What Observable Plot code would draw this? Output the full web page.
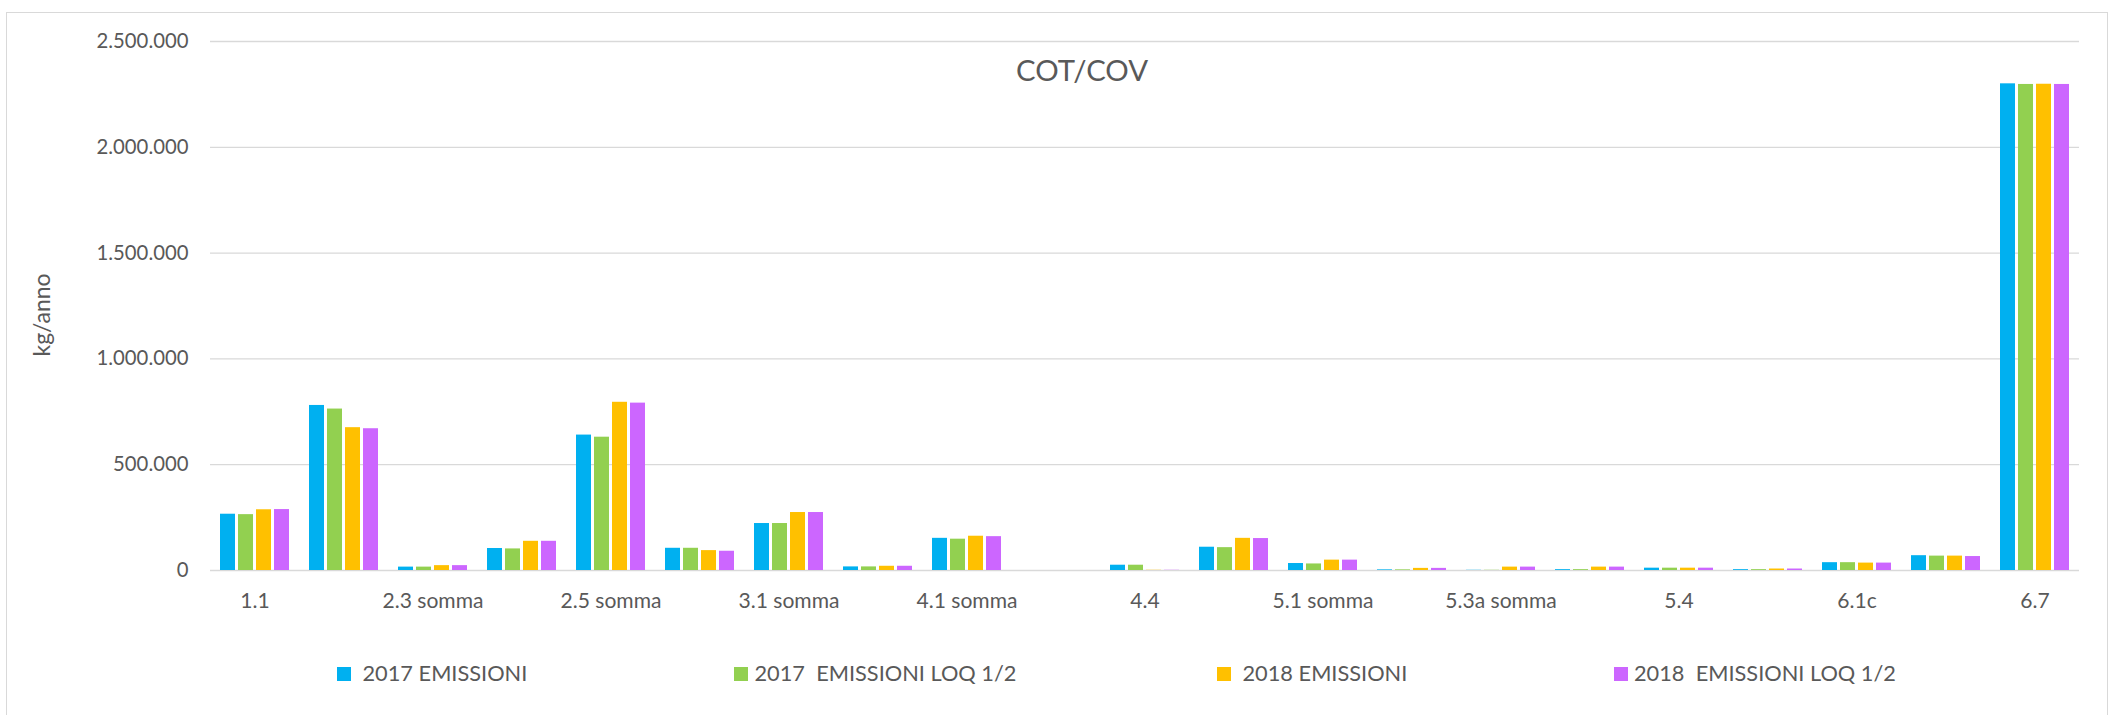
<!DOCTYPE html>
<html>
<head>
<meta charset="utf-8">
<script src="https://cdn.jsdelivr.net/npm/d3@7"></script>
<script src="https://cdn.jsdelivr.net/npm/@observablehq/plot@0.6"></script>
<style>
  html, body { margin: 0; padding: 0; background: #fff; }
  #chart { position: relative; width: 2117px; height: 715px; overflow: hidden; font-family: Lato, sans-serif; color: #595959; }
  #frame { position: absolute; left: 6px; top: 12px; width: 2102px; height: 720px; border: 1.3px solid #d9d9d9; box-sizing: border-box; pointer-events: none; }
  #plot { position: absolute; left: 0; top: 0; }
  .abs { position: absolute; white-space: pre; line-height: 1; }
  .sw { position: absolute; width: 13.5px; height: 13.5px; }
</style>
</head>
<body>
<div id="chart">
  <div id="frame"></div>
  <div id="plot"></div>
</div>
<script>
// ---- data ----
const categories = ["1.1", "2.1", "2.3 somma", "2.4", "2.5 somma", "2.6", "3.1 somma", "3.2", "4.1 somma", "4.2",
                    "4.4", "4.5", "5.1 somma", "5.2", "5.3a somma", "5.3b", "5.4", "6.1a", "6.1c", "6.2", "6.7"];
const tickLabels = ["1.1", "2.3 somma", "2.5 somma", "3.1 somma", "4.1 somma", "4.4", "5.1 somma", "5.3a somma", "5.4", "6.1c", "6.7"];
const series = ["2017 EMISSIONI", "2017  EMISSIONI LOQ 1/2", "2018 EMISSIONI", "2018  EMISSIONI LOQ 1/2"];
const colors = ["#00B0F0", "#92D050", "#FFC000", "#CC66FF"];
const emissioni2017 = [266000, 780000, 16000, 104000, 640000, 105000, 222000, 17000, 152000, 0, 25000, 110000, 33000, 3000, 1000, 4000, 11000, 4000, 37000, 70000, 2300000];
const loq2017       = [264000, 763000, 16000, 102000, 630000, 105000, 222000, 17000, 148000, 0, 25000, 108000, 31000, 3000, 1000, 4000, 11000, 4000, 37000, 68000, 2297000];
const emissioni2018 = [287000, 675000, 23000, 138000, 795000, 94000, 274000, 20000, 162000, 0, 1000, 152000, 49000, 10000, 16000, 16000, 11000, 7000, 35000, 68000, 2298000];
const loq2018       = [288000, 670000, 23000, 138000, 791000, 91000, 274000, 20000, 160000, 0, 1000, 151000, 49000, 10000, 16000, 16000, 11000, 7000, 35000, 66000, 2297000];
const yTicks = [0, 500000, 1000000, 1500000, 2000000, 2500000];
const title = "COT/COV";
const yLabel = "kg/anno";

const seriesValues = [emissioni2017, loq2017, emissioni2018, loq2018];
const rows = [];
categories.forEach((c, i) => series.forEach((s, j) => rows.push({category: c, series: s, value: seriesValues[j][i]})));

// ---- font fitting (substitute for Calibri) ----
const FAMILY = "Lato";
const ctx = document.createElement("canvas").getContext("2d");
function fit(text, target) {
  ctx.font = `100px ${FAMILY}`;
  return 100 * target / ctx.measureText(text).width;
}
const tickFs = fit("2.500.000", 92);
const catFs = fit("3.1 somma", 101);
const legFs = fit("2018  EMISSIONI LOQ 1/2", 262);
const titleFs = fit(title, 132);
const yLabFs = fit(yLabel, 83);

const itFmt = d3.formatLocale({decimal: ",", thousands: ".", grouping: [3], currency: ["€", ""]}).format(",.0f");

const chart = Plot.plot({
  width: 2117,
  height: 620,
  marginLeft: 205,
  marginRight: 34,
  marginTop: 41,
  marginBottom: 50,
  style: {fontFamily: `${FAMILY}, sans-serif`, color: "#595959", background: "transparent", overflow: "visible"},
  fx: {domain: categories, padding: 0},
  x: {domain: series, paddingInner: 0.19, paddingOuter: 0.5, axis: null},
  y: {domain: [0, 2500000]},
  color: {domain: series, range: colors},
  marks: [
    Plot.gridY(yTicks, {stroke: "#d9d9d9", strokeOpacity: 1, strokeWidth: 1.3}),
    Plot.axisY(yTicks, {tickSize: 0, tickPadding: 22, tickFormat: itFmt, fontSize: tickFs, label: null, fontVariant: "normal"}),
    Plot.axisFx({anchor: "bottom", tickSize: 0, tickPadding: 23, fontSize: catFs, label: null,
                 tickFormat: d => tickLabels.includes(d) ? d : ""}),
    Plot.barY(rows, {fx: "category", x: "series", y: "value", fill: "series"})
  ]
});
document.getElementById("plot").appendChild(chart);

// ---- title, y label, legend (HTML) ----
const root = document.getElementById("chart");
const t = document.createElement("div");
t.className = "abs";
t.textContent = title;
Object.assign(t.style, {left: "1082px", top: "70px", fontSize: titleFs + "px", transform: "translate(-50%,-50%)"});
root.appendChild(t);

const yl = document.createElement("div");
yl.className = "abs";
yl.textContent = yLabel;
Object.assign(yl.style, {left: "41px", top: "315px", fontSize: yLabFs + "px", transform: "translate(-50%,-50%) rotate(-90deg)"});
root.appendChild(yl);

const swatchX = [337, 734, 1217, 1614];
const textX = [362.5, 754.5, 1242.5, 1634];
series.forEach((s, i) => {
  const sw = document.createElement("div");
  sw.className = "sw";
  Object.assign(sw.style, {left: swatchX[i] + "px", top: "667px", background: colors[i]});
  root.appendChild(sw);
  const lt = document.createElement("div");
  lt.className = "abs";
  lt.textContent = s;
  Object.assign(lt.style, {left: textX[i] + "px", top: "674px", fontSize: legFs + "px", transform: "translateY(-50%)"});
  root.appendChild(lt);
});
</script>
</body>
</html>
